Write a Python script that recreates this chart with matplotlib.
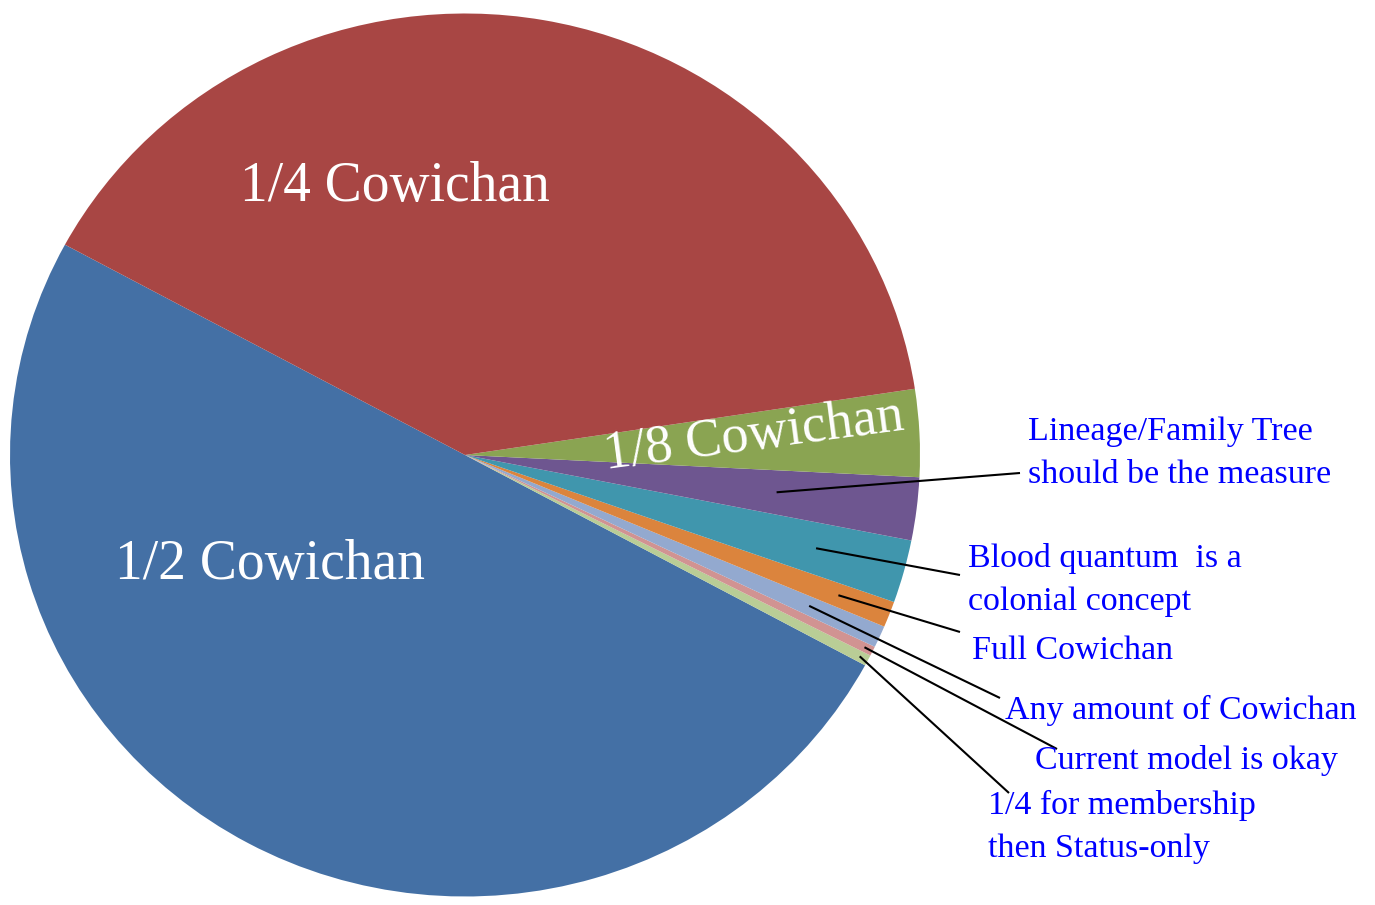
import numpy as np
import matplotlib
matplotlib.use("Agg")
import matplotlib.pyplot as plt

### DATA ###
# slices in drawing order (counter-clockwise from the 1/2 Cowichan edge), percent
categories = ['1/2 Cowichan', 'Status-only', 'Current model is okay',
              'Any amount of Cowichan', 'Full Cowichan', 'Blood quantum',
              'Lineage/Family Tree', '1/8 Cowichan', '1/4 Cowichan']
shares = [50.0, 0.4, 0.35, 0.8, 0.95, 2.3, 2.3, 3.2, 39.7]
colors = ['#4470a5', '#b9cd96', '#d19392', '#93a9cf', '#db843d',
          '#4096ad', '#6e5690', '#8aa452', '#a84644']

# outside labels: (slice index, text)
outside_labels = [
    (6, 'Lineage/Family Tree\nshould be the measure'),
    (5, 'Blood quantum  is a\ncolonial concept'),
    (4, 'Full Cowichan'),
    (3, 'Any amount of Cowichan'),
    (2, 'Current model is okay'),
    (1, '1/4 for membership\nthen Status-only'),
]

### LAYOUT ###
W, H = 1375, 905
CX, CY = 465, 455      # pie centre, pixels from top-left
RX, RY = 455, 441.5    # pie radii in pixels (image is slightly squashed)
START = 151.55


def px(x, y):
    '''pixel position (from top-left) -> data coords'''
    return (x - CX) / RX, (CY - y) / RY


# per outside label: radius fraction of leader start, leader end px, text anchor px
leader_r = [0.69, 0.80, 0.88, 0.83, 0.98, 0.98]
leader_end = [(1020, 473), (960, 575), (960, 632), (1000, 698), (1057, 749), (1009, 793)]
text_pos = [(1028, 453), (968, 580), (972, 651), (1005, 710), (1035, 760), (988, 827)]

fig = plt.figure(figsize=(W / 100, H / 100), dpi=100, facecolor='white')
ax = fig.add_axes([0, 0, 1, 1])

wedges, _ = ax.pie(shares, colors=colors, startangle=START, counterclock=True,
                   wedgeprops=dict(linewidth=0))
ax.set_aspect('auto')
ax.set_xlim((0 - CX) / RX, (W - CX) / RX)
ax.set_ylim((CY - H) / RY, CY / RY)
ax.axis('off')

serif = ['Liberation Serif', 'DejaVu Serif']

# labels inside the big slices
x, y = px(270, 565)
ax.text(x, y, '1/2 Cowichan', color='white', fontsize=40, family=serif,
        ha='center', va='center')
x, y = px(395, 187)
ax.text(x, y, '1/4 Cowichan', color='white', fontsize=40, family=serif,
        ha='center', va='center')
x, y = px(754, 436)
ax.text(x, y, '1/8 Cowichan', color='white', fontsize=39, family=serif,
        ha='center', va='center', rotation=7.5, rotation_mode='anchor')

# leader lines + outside labels
for k, (idx, label) in enumerate(outside_labels):
    w = wedges[idx]
    mid = np.deg2rad((w.theta1 + w.theta2) / 2)
    sx, sy = leader_r[k] * np.cos(mid), leader_r[k] * np.sin(mid)
    ex, ey = px(*leader_end[k])
    ax.plot([sx, ex], [sy, ey], color='black', lw=1.5, solid_capstyle='butt')
    tx, ty = px(*text_pos[k])
    ax.text(tx, ty, label, color='#0000ff', fontsize=24.5, family=serif,
            ha='left', va='center', linespacing=1.55)

fig.savefig('out.png', dpi=100, facecolor='white')
